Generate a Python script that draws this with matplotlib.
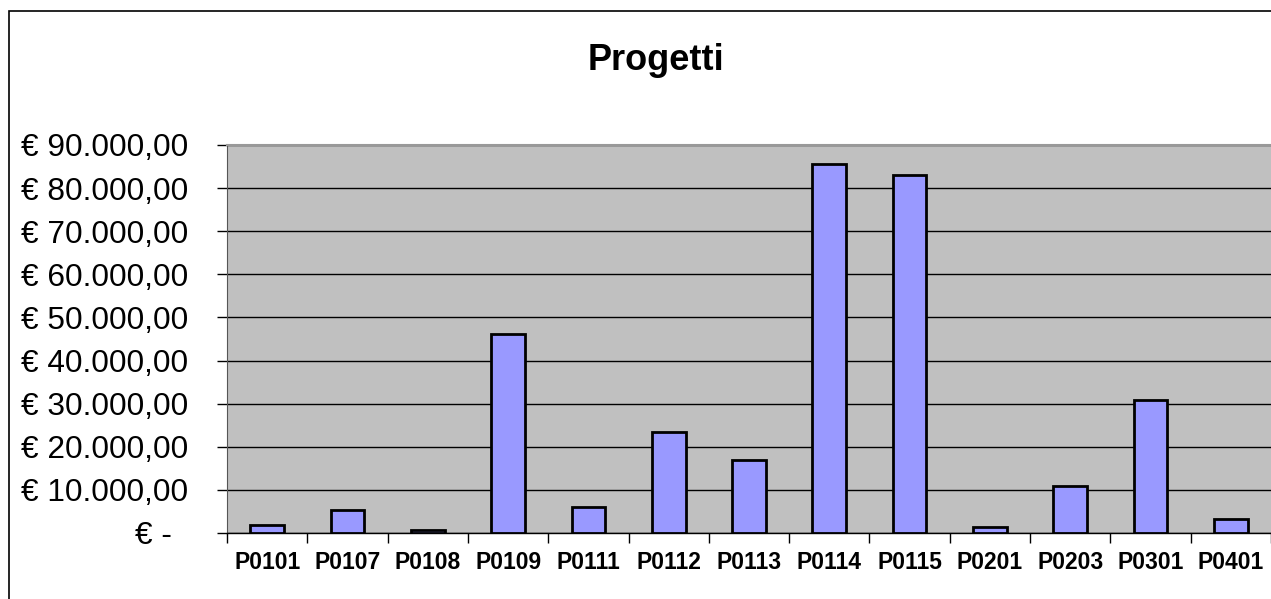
import matplotlib.pyplot as plt
from matplotlib.patches import Rectangle
from matplotlib.transforms import ScaledTranslation
from matplotlib.ticker import FixedLocator

plt.rcParams['font.family'] = ['Liberation Sans', 'DejaVu Sans']

progetti = ['P0101', 'P0107', 'P0108', 'P0109', 'P0111', 'P0112', 'P0113',
            'P0114', 'P0115', 'P0201', 'P0203', 'P0301', 'P0401']
importi = [1800, 5300, 800, 46200, 6000, 23400, 16900,
           85600, 83150, 1300, 10950, 30900, 3350]
y_ticks = [0, 10000, 20000, 30000, 40000, 50000, 60000, 70000, 80000, 90000]


def euro(v):
    if v == 0:
        return '€ -'
    s = f'{v:,.2f}'.replace(',', 'X').replace('.', ',').replace('X', '.')
    return '€ ' + s


fig = plt.figure(figsize=(12.71, 5.99), dpi=100)
ax = fig.add_axes([227 / 1271, 1 - 533 / 599, 1 - 227 / 1271, (533 - 145) / 599])

# outer chart frame (only left/top visible, rest is cropped)
fig.patches.append(Rectangle((9 / 1271, -0.1), 1.2, 1 - 11 / 599 + 0.1,
                             transform=fig.transFigure, fill=False,
                             edgecolor='black', linewidth=1.2))

ax.set_facecolor('#c0c0c0')
x = range(len(progetti))
ax.bar(x, importi, width=0.42, color='#9999ff', edgecolor='black',
       linewidth=2.0, zorder=3)

ax.set_xlim(-0.5, len(progetti) - 0.5)
ax.set_ylim(0, 90000)
ax.yaxis.set_major_locator(FixedLocator(y_ticks))
ax.set_yticklabels([euro(v) for v in y_ticks], fontsize=22.8)
ax.yaxis.grid(True, color='black', linewidth=1.0, zorder=1)
ax.set_axisbelow(True)

ax.set_xticks(list(x))
ax.set_xticklabels(progetti, fontsize=16.5, fontweight='bold')
ax.set_xticks([i - 0.5 for i in range(len(progetti) + 1)], minor=True)
ax.tick_params(axis='x', which='major', length=0, pad=13)
ax.tick_params(axis='x', which='minor', length=7.2, width=1.0, direction='out')
ax.tick_params(axis='y', length=7.2, width=1.0, direction='out', pad=21)

ax.spines['right'].set_visible(False)
ax.spines['top'].set_color('#999999')
ax.spines['top'].set_linewidth(1.5)
ax.spines['left'].set_color('#555555')
ax.spines['bottom'].set_linewidth(1.0)

# zero label sits a bit left of the others (accounting format)
zero_lbl = ax.get_yticklabels()[0]
zero_lbl.set_transform(zero_lbl.get_transform() +
                       ScaledTranslation(-0.16, 0, fig.dpi_scale_trans))

fig.text(656 / 1271, 1 - 70 / 599, 'Progetti', ha='center', va='baseline',
         fontsize=26, fontweight='bold')

fig.savefig('out.png', dpi=100)
